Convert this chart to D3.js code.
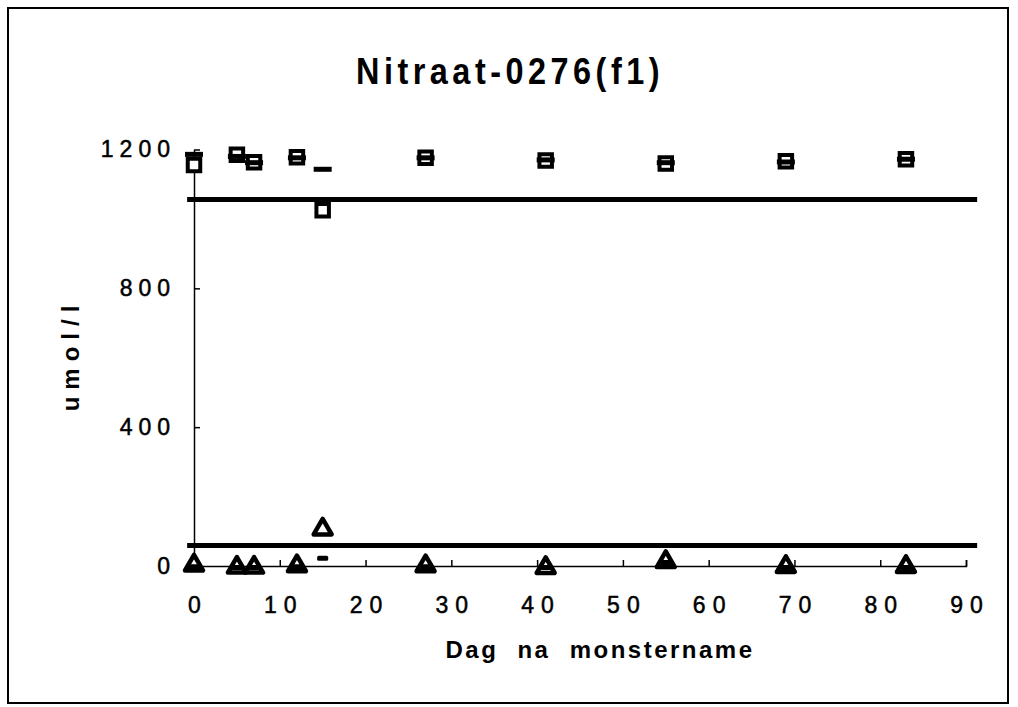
<!DOCTYPE html>
<html>
<head>
<meta charset="utf-8">
<script src="https://cdn.jsdelivr.net/npm/d3@7"></script>
<style>
  body { margin: 0; background: #fff; }
  text { font-family: "Liberation Sans", Arial, sans-serif; fill: #000; }
</style>
</head>
<body>
<div id="chart"></div>
<script>
const w = 1018,
    h = 707,
    plot_left = 194,
    plot_right = 966,
    plot_top = 149.5,
    plot_bottom = 566;

// Data
const days = [0, 5, 7, 12, 15, 27, 41, 55, 69, 83];
const squareVals = [1155, 1185, 1163, 1178, 1025, 1176, 1168, 1160, 1166, 1172];
const dashHighVals = [1186, 1180, 1162, 1176, 1143, 1176, 1170, 1162, 1164, 1172];
const triangleVals = [2, -4, -4, 0, 106, 0, -5, 12, -2, -2];
const dashLowVals = [-2, -4, -4, -2, 22, -2, -4, 10, -4, -4];
const limitVals = [1056, 59];
const limitSpan = [-0.8, 91.3];
const xTicks = [0, 10, 20, 30, 40, 50, 60, 70, 80, 90];
const yTicks = [0, 400, 800, 1200];

const svg = d3.select('#chart').append('svg')
    .attr('width', w)
    .attr('height', h);

// frame
svg.append('rect')
    .attr('x', 8).attr('y', 8)
    .attr('width', 1000).attr('height', 695)
    .attr('fill', 'none')
    .attr('stroke', '#000')
    .attr('stroke-width', 2);

const x = d3.scaleLinear().domain([0, 90]).range([plot_left, plot_right]);
const y = d3.scaleLinear().domain([0, 1200]).range([plot_bottom, plot_top]);

// title
svg.append('text')
    .attr('x', 510)
    .attr('y', 84)
    .attr('text-anchor', 'middle')
    .attr('textLength', 308)
    .attr('lengthAdjust', 'spacingAndGlyphs')
    .style('font-size', '36px')
    .style('font-weight', 'bold')
    .style('letter-spacing', '5px')
    .text('Nitraat-0276(f1)');

// x axis
const xAxis = svg.append('g')
    .attr('transform', 'translate(0,' + plot_bottom + ')')
    .call(d3.axisBottom(x).tickValues(xTicks).tickFormat(d3.format('d'))
        .tickSizeInner(-6).tickSizeOuter(-6).tickPadding(31));
xAxis.select('.domain').attr('stroke-width', 1.5);
xAxis.selectAll('.tick line').attr('stroke-width', 1.5);
xAxis.selectAll('.tick text')
    .attr('fill', '#000')
    .attr('stroke', '#000')
    .attr('stroke-width', 0.5)
    .attr('dx', 3.5)
    .style('font-family', '"Liberation Sans", Arial, sans-serif')
    .style('font-size', '23px')
    .style('letter-spacing', '7px');

// y axis
const yAxis = svg.append('g')
    .attr('transform', 'translate(' + plot_left + ',0)')
    .call(d3.axisLeft(y).tickValues(yTicks).tickFormat(d3.format('d'))
        .tickSizeInner(-6).tickSizeOuter(0).tickPadding(18));
yAxis.select('.domain').attr('stroke-width', 1.5);
yAxis.selectAll('.tick line').attr('stroke-width', 1.5);
yAxis.selectAll('.tick text')
    .attr('fill', '#000')
    .attr('stroke', '#000')
    .attr('stroke-width', 0.5)
    .style('font-family', '"Liberation Sans", Arial, sans-serif')
    .style('font-size', '23px')
    .style('letter-spacing', '6px');

// axis titles
svg.append('text')
    .attr('x', 600)
    .attr('y', 658)
    .attr('text-anchor', 'middle')
    .style('font-size', '24px')
    .style('font-weight', 'bold')
    .style('letter-spacing', '2.5px')
    .style('word-spacing', '10px')
    .text('Dag na monstername');

svg.append('text')
    .attr('transform', 'translate(79,355) rotate(-90)')
    .attr('text-anchor', 'middle')
    .style('font-size', '24px')
    .style('font-weight', 'bold')
    .style('letter-spacing', '7px')
    .text('umol/l');

// limit lines
svg.selectAll('.limit')
    .data(limitVals)
    .enter().append('line')
    .attr('class', 'limit')
    .attr('x1', x(limitSpan[0]))
    .attr('x2', x(limitSpan[1]))
    .attr('y1', d => y(d))
    .attr('y2', d => y(d))
    .attr('stroke', '#000')
    .attr('stroke-width', 5);

// open squares
const square = d3.symbol().type(d3.symbolSquare).size(156);
svg.selectAll('.sq')
    .data(days)
    .enter().append('path')
    .attr('class', 'sq')
    .attr('d', square)
    .attr('transform', (d, i) => 'translate(' + x(d) + ',' + y(squareVals[i]) + ')')
    .attr('fill', '#fff')
    .attr('stroke', '#000')
    .attr('stroke-width', 4);

// open triangles
const tri = d3.symbol().type(d3.symbolTriangle).size(140);
svg.selectAll('.tri')
    .data(days)
    .enter().append('path')
    .attr('class', 'tri')
    .attr('d', tri)
    .attr('transform', (d, i) => 'translate(' + x(d) + ',' + y(triangleVals[i]) + ')')
    .attr('fill', '#fff')
    .attr('stroke', '#000')
    .attr('stroke-width', 4.5)
    .attr('stroke-linejoin', 'round');

// dash markers
svg.selectAll('.dashHigh')
    .data(days)
    .enter().append('rect')
    .attr('class', 'dashHigh')
    .attr('x', d => x(d) - 9)
    .attr('y', (d, i) => y(dashHighVals[i]) - 2.5)
    .attr('width', 18)
    .attr('height', 5)
    .attr('fill', '#000');

svg.selectAll('.dashLow')
    .data(days)
    .enter().append('rect')
    .attr('class', 'dashLow')
    .attr('x', d => x(d) - 5.5)
    .attr('y', (d, i) => y(dashLowVals[i]) - 2.5)
    .attr('width', 11)
    .attr('height', 5)
    .attr('rx', 1.5)
    .attr('fill', '#000');
</script>
</body>
</html>
